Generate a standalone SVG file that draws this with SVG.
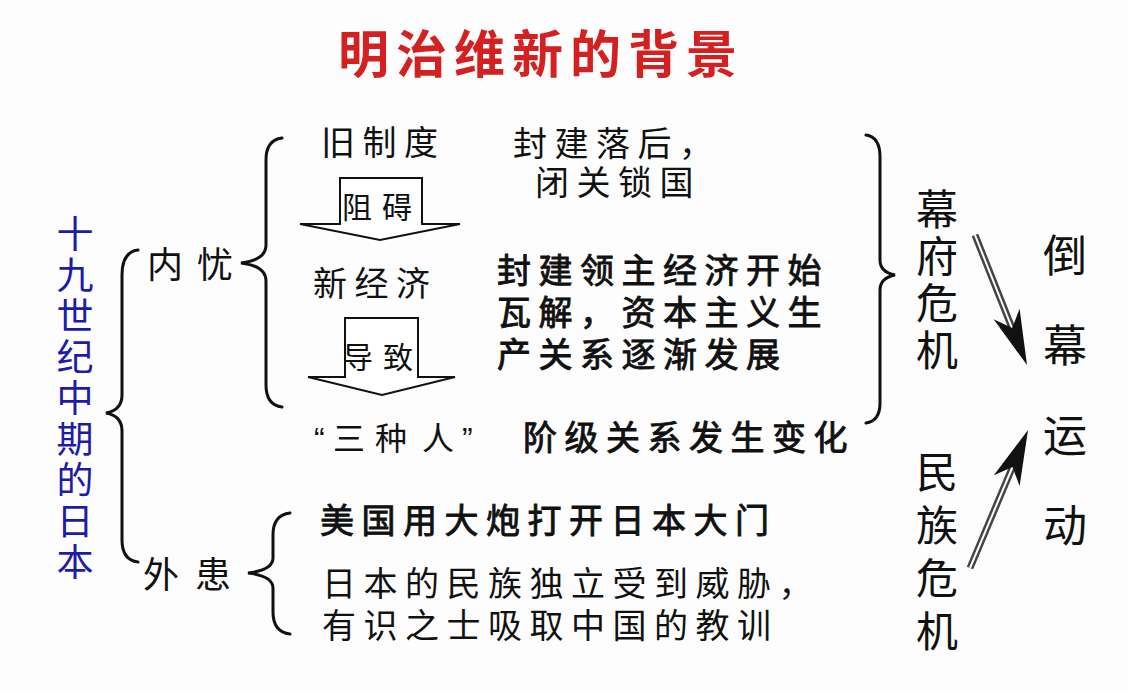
<svg xmlns="http://www.w3.org/2000/svg" width="1128" height="692" viewBox="0 0 1128 692">
<style>
text{font-family:"Noto Sans CJK SC","Noto Sans CJK TC",sans-serif;fill:#111}
.t34{font-size:34px;letter-spacing:7.5px}
.b{stroke:#111;stroke-width:0.9px}
.brace{fill:none;stroke:#111;stroke-width:3;stroke-linecap:round}
.blk{fill:#fff;stroke:#111;stroke-width:2;stroke-linejoin:miter}
.shaft{stroke:#444;stroke-width:7}
.shaftin{stroke:#fff;stroke-width:2}
.head{fill:#111}
.vert{writing-mode:vertical-rl;text-orientation:upright}
.q{font-family:"Liberation Sans",sans-serif}
</style>
<rect width="1128" height="692" fill="#fdfdfd"/>
<g id="title"><text x="338" y="73" font-size="51" font-weight="bold" letter-spacing="7" style="fill:#d42020">明治维新的背景</text></g>
<g id="japan"><text class="vert" x="75" y="215" font-size="37" letter-spacing="4" style="fill:#1c1ca8">十九世纪中期的日本</text></g>
<g id="neiyou"><text x="147" y="278" font-size="36" letter-spacing="14">内忧</text></g>
<g id="waihuan"><text x="143" y="588" font-size="36" letter-spacing="16">外患</text></g>
<g id="jiuzhidu"><text x="321" y="155" class="t34">旧制度</text></g>
<g id="fengjian"><text class="t34"><tspan x="513" y="156">封建落后，</tspan><tspan x="535" y="195">闭关锁国</tspan></text></g>
<g id="arrow-zuai"><polygon class="blk" points="340,178 422,178 422,224 460,224 380,240 300,224 340,224"/><text x="342" y="218" font-size="30" letter-spacing="10">阻碍</text></g>
<g id="xinjingji"><text x="313" y="296" class="t34">新经济</text></g>
<g id="jingji-desc"><text class="t34 b"><tspan x="497" y="283">封建领主经济开始</tspan><tspan x="497" y="325">瓦解，资本主义生</tspan><tspan x="497" y="367">产关系逐渐发展</tspan></text></g>
<g id="arrow-daozhi"><polygon class="blk" points="345,318 418,318 418,377 455,377 382,395 308,377 345,377"/><text x="343" y="368" font-size="30" letter-spacing="10">导致</text></g>
<g id="sanzhongren"><text y="450" font-size="32"><tspan class="q" x="314">“</tspan><tspan x="333">三</tspan><tspan x="375">种</tspan><tspan x="422">人</tspan><tspan class="q" x="462">”</tspan></text></g>
<g id="jieji"><text x="523" y="450" class="t34 b">阶级关系发生变化</text></g>
<g id="meiguo"><text x="320" y="533" class="t34 b">美国用大炮打开日本大门</text></g>
<g id="riben-desc"><text class="t34" letter-spacing="8"><tspan x="322" y="596">日本的民族独立受到威胁，</tspan><tspan x="322" y="638">有识之士吸取中国的教训</tspan></text></g>
<g id="mufu"><text class="vert" x="937" y="188" font-size="42" letter-spacing="5">幕府危机</text></g>
<g id="minzu"><text class="vert" x="937" y="451" font-size="42" letter-spacing="11">民族危机</text></g>
<g id="daomu"><text class="vert" x="1065" y="233" font-size="44" letter-spacing="46">倒幕运动</text></g>
<g id="connectors">
<path class="brace" d="M138,250 Q122,252 122,275 L122,395 Q122,410 106,413 Q122,416 122,431 L122,540 Q122,560 138,562"/>
<path class="brace" d="M282,138 Q266,140 266,160 L266,245 Q266,260 241,263 Q266,266 266,281 L266,385 Q266,405 282,407"/>
<path class="brace" d="M290,513 Q273,515 273,535 L273,558 Q273,570 248,573 Q273,576 273,588 L273,612 Q273,632 290,634"/>
<path class="brace" d="M866,135 Q880,137 880,157 L880,260 Q880,272 895,275 Q880,278 880,290 L880,403 Q880,421 866,423"/>
<line class="shaft" x1="975" y1="235" x2="1012" y2="328"/>
<line class="shaftin" x1="975" y1="235" x2="1012" y2="328"/>
<path class="head" d="M1027,365 L993.6,319.2 L1012.2,327.9 L1019.6,308.8 Z"/>
<line class="shaft" x1="970" y1="568" x2="1012.5" y2="467"/>
<line class="shaftin" x1="970" y1="568" x2="1012.5" y2="467"/>
<path class="head" d="M1028,430 L1019.6,486.1 L1012.5,466.9 L993.8,475.3 Z"/>
</g>
</svg>
